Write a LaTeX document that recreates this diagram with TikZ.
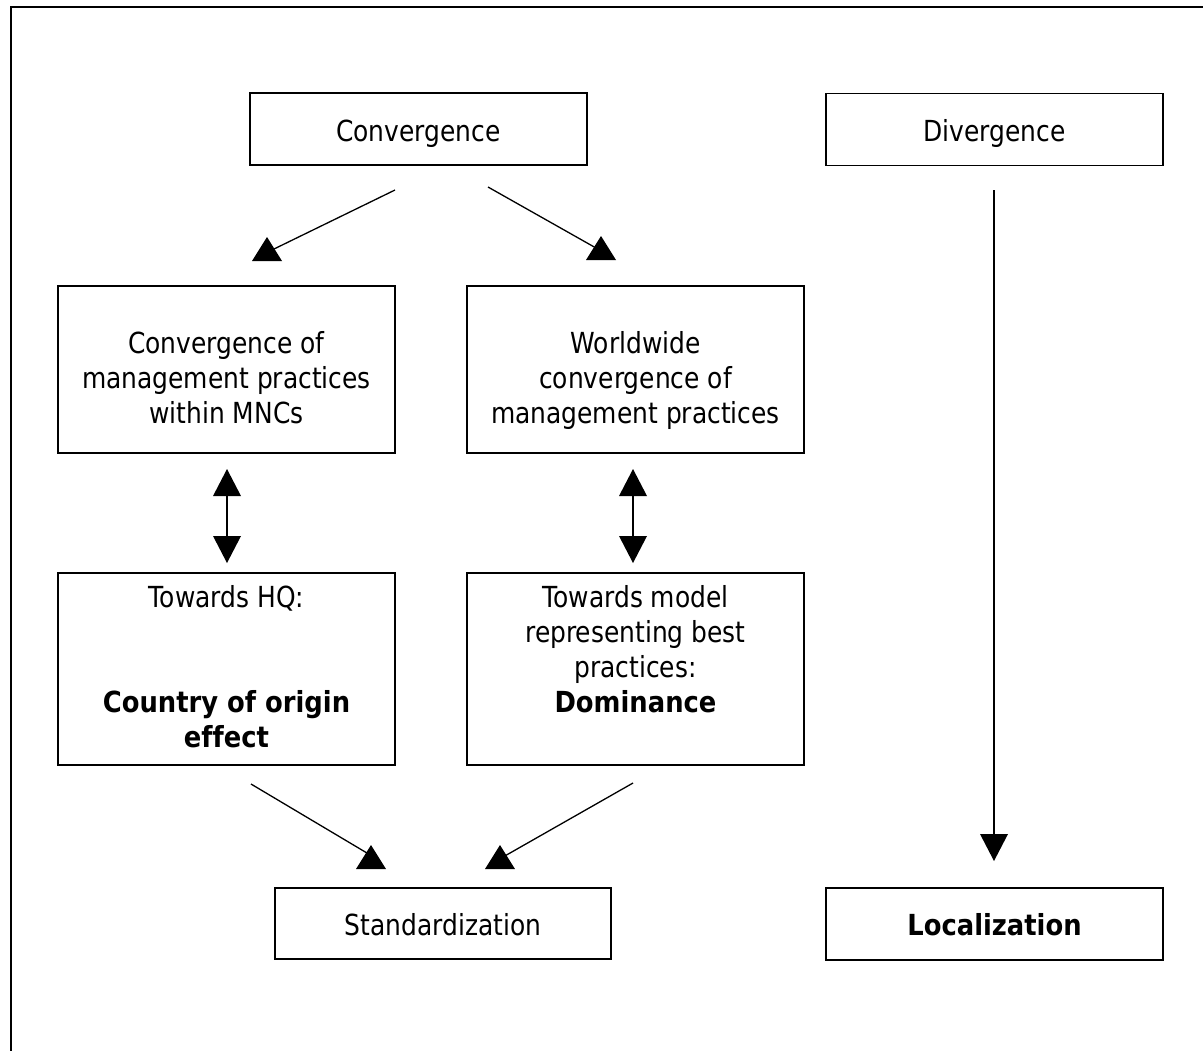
\documentclass[tikz,border=0pt]{standalone}
\usepackage{fontspec}
\newfontfamily\tfont[FakeStretch=0.86,Ligatures=NoCommon]{DejaVu Sans}
\newfontfamily\tbfont[FakeStretch=0.89,Ligatures=NoCommon]{DejaVu Sans}
\newcommand\bftxt[1]{{\tbfont\bfseries #1}}
\tikzset{
  uptri/.pic={\fill (0,0) -- (-15,24) -- (15,24) -- cycle;},
  uparr/.pic={\fill (0,0) -- (-14,27) -- (14,27) -- cycle;},
  dnarr/.pic={\fill (0,0) -- (-14,-27) -- (14,-27) -- cycle;}
}
\begin{document}
\begin{tikzpicture}[x=0.5pt,y=-0.5pt,
  frame/.style={line width=0.75pt},
  box/.style={draw, line width=0.7pt, inner sep=0pt, minimum width=168.5pt},
  smallbox/.style={box, minimum height=36pt},
  midbox/.style={box, minimum height=83.5pt},
  tallbox/.style={box, minimum height=96pt},
  txt/.style={anchor=north, inner sep=0pt, align=center,
    font=\tfont\fontsize{14.5pt}{17.5pt}\selectfont,
    execute at begin node={\strut}},
  conn/.style={line width=0.65pt},
  dbl/.style={line width=1pt},
  vline/.style={line width=1.3pt}]
\useasboundingbox (0,0) rectangle (1203,1050);
\clip (0,0) rectangle (1203,1050);
\fill[white] (0,0) rectangle (1203,1050);
% outer frame
\draw[frame] (11,1070) -- (11,7) -- (1220,7);
% boxes
\node[smallbox] (conv) at (418.5,129) {};
\node[smallbox] (div) at (994.5,129.5) {};
\node[midbox] (within) at (226.5,369.5) {};
\node[midbox] (world) at (635.5,369.5) {};
\node[tallbox] (hq) at (226.5,669) {};
\node[tallbox] (model) at (635.5,669) {};
\node[smallbox, minimum width=168pt, minimum height=35.5pt] (std) at (443,923.5) {};
\node[smallbox] (loc) at (994.5,924) {};
% texts
\node[txt] (tconv) at (418.5,116.5) {Convergence};
\node[txt] (tdiv) at (994.5,116.5) {Divergence};
\node[txt] (twithin) at (226.5,331.5) {Convergence of\\management practices\\within MNCs};
\node[txt] (tworld) at (635.5,331.5) {Worldwide\\convergence of\\management practices};
\node[txt] (thq) at (226.5,585.5) {Towards HQ:\\[35pt]\bftxt{Country of origin}\\\bftxt{effect}};
\node[txt] (tmodel) at (635.5,585.5) {Towards model\\representing best\\practices:\\\bftxt{Dominance}};
\node[txt] (tstd) at (443,910.5) {Standardization};
\node[txt] (tloc) at (994.5,910.5) {\bftxt{Localization}};
% connectors
\coordinate (c1a) at (395,190); \coordinate (c1b) at (274,249);
\coordinate (c2a) at (488,187); \coordinate (c2b) at (596,248);
\coordinate (c3a) at (227,494); \coordinate (c3b) at (227,538);
\coordinate (c4a) at (633,494); \coordinate (c4b) at (633,538);
\coordinate (c5a) at (251,784); \coordinate (c5b) at (372,856);
\coordinate (c6a) at (633,783); \coordinate (c6b) at (503,857);
\coordinate (c7a) at (994,190); \coordinate (c7b) at (994,836);
\draw[conn] (c1a) -- (c1b);
\draw[conn] (c2a) -- (c2b);
\draw[dbl] (c3a) -- (c3b);
\draw[dbl] (c4a) -- (c4b);
\draw[conn] (c5a) -- (c5b);
\draw[conn] (c6a) -- (c6b);
\draw[vline] (c7a) -- (c7b);
% arrowheads
\pic at (267,237) {uptri};
\pic at (601,236) {uptri};
\pic at (227,469) {uparr};
\pic at (227,563) {dnarr};
\pic at (633,469) {uparr};
\pic at (633,563) {dnarr};
\pic at (371,845) {uptri};
\pic at (500,845) {uptri};
\pic at (994,861) {dnarr};
\end{tikzpicture}
\end{document}
